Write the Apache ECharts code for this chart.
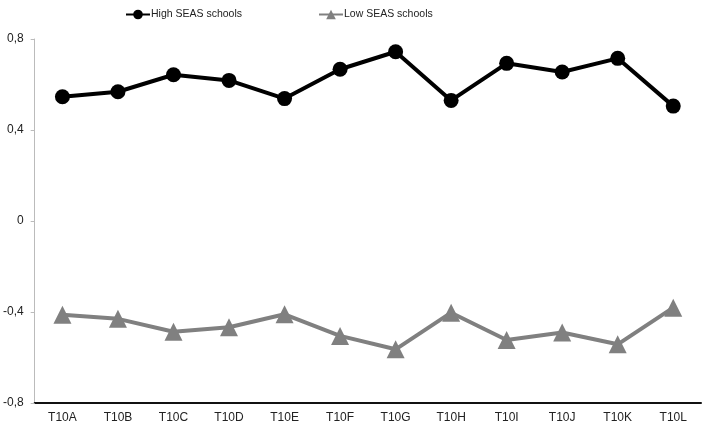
<!DOCTYPE html>
<html>
<head>
<meta charset="utf-8">
<script src="https://cdn.jsdelivr.net/npm/echarts@6/dist/echarts.min.js"></script>
<style>html,body{margin:0;padding:0;background:#fff}#c{width:702px;height:428px}</style>
</head>
<body>
<div id="c"></div>
<script>
const categories = ['T10A','T10B','T10C','T10D','T10E','T10F','T10G','T10H','T10I','T10J','T10K','T10L'];
const highSEAS = [0.546, 0.568, 0.643, 0.618, 0.538, 0.667, 0.744, 0.530, 0.693, 0.655, 0.715, 0.505];
const lowSEAS = [-0.412, -0.430, -0.487, -0.467, -0.410, -0.505, -0.564, -0.403, -0.523, -0.490, -0.542, -0.381];
const yTicks = { min: -0.8, max: 0.8, interval: 0.4 };

const legendText = { fontFamily: '"Liberation Sans Narrow", "Arial Narrow", "Liberation Sans", Arial, sans-serif', fontSize: 10.5, color: '#222', padding: [0, 0, 0, -4] };
const chart = echarts.init(document.getElementById('c'), null, { renderer: 'canvas' });
chart.setOption({
  animation: false,
  backgroundColor: '#fff',
  legend: [
    { left: 120, top: 4, itemWidth: 24, itemHeight: 12, textStyle: legendText, data: ['High SEAS schools'] },
    { left: 313, top: 4, itemWidth: 24, itemHeight: 12, textStyle: legendText, data: ['Low SEAS schools'] }
  ],
  grid: { left: 34, right: 1, top: 39, bottom: 25 },
  xAxis: {
    type: 'category',
    data: categories,
    boundaryGap: true,
    axisLine: { show: true, onZero: false, lineStyle: { color: '#111', width: 2 } },
    axisTick: { show: false },
    axisLabel: { color: '#222', fontFamily: '"Liberation Sans", Arial, sans-serif', fontSize: 12, margin: 9 }
  },
  yAxis: {
    type: 'value',
    min: yTicks.min, max: yTicks.max, interval: yTicks.interval,
    axisLine: { show: true, lineStyle: { color: '#bbb', width: 1 } },
    axisTick: { show: true, length: 4, lineStyle: { color: '#bbb' } },
    splitLine: { show: false },
    axisLabel: {
      color: '#222', fontFamily: '"Liberation Sans", Arial, sans-serif', fontSize: 12, margin: 11,
      formatter: v => (Math.round(v * 10) / 10).toString().replace('.', ',')
    }
  },
  series: [
    {
      name: 'High SEAS schools', type: 'line', data: highSEAS,
      symbol: 'circle', symbolSize: 15,
      lineStyle: { color: '#000', width: 4 },
      itemStyle: { color: '#000' }
    },
    {
      name: 'Low SEAS schools', type: 'line', data: lowSEAS,
      symbol: 'triangle', symbolSize: 18,
      lineStyle: { color: '#808080', width: 4 },
      itemStyle: { color: '#808080' }
    }
  ]
});
</script>
</body>
</html>
